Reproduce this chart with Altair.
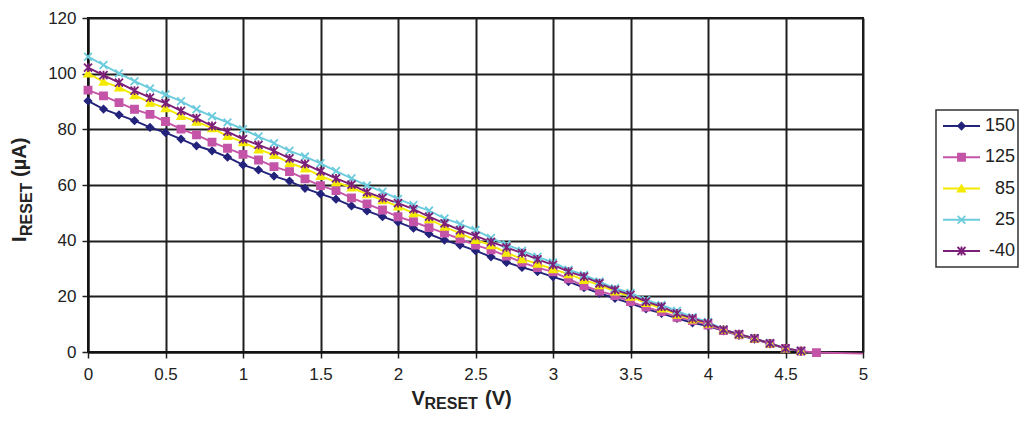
import altair as alt
import pandas as pd

# ---------------- data ----------------
volts = [0.0, 0.1, 0.2, 0.3, 0.4, 0.5, 0.6, 0.7, 0.8, 0.9,
         1.0, 1.1, 1.2, 1.3, 1.4, 1.5, 1.6, 1.7, 1.8, 1.9,
         2.0, 2.1, 2.2, 2.3, 2.4, 2.5, 2.6, 2.7, 2.8, 2.9,
         3.0, 3.1, 3.2, 3.3, 3.4, 3.5, 3.6, 3.7, 3.8, 3.9,
         4.0, 4.1, 4.2, 4.3, 4.4, 4.5, 4.6]
volts_125 = volts + [4.7, 5.0]

i_150 = [90.2, 87.3, 85.2, 83.1, 80.7, 78.8, 76.5, 74.1, 72.3, 70.0,
         67.2, 65.4, 63.2, 61.4, 58.8, 56.8, 54.9, 52.5, 50.7, 48.6,
         46.7, 44.5, 42.4, 40.2, 38.4, 36.4, 34.2, 32.2, 30.4, 28.9,
         27.0, 25.3, 23.1, 21.1, 19.3, 17.5, 15.5, 13.9, 12.1, 10.5,
         9.3, 7.6, 6.0, 4.6, 2.9, 1.2, 0.2]
i_125 = [94.1, 92.0, 89.6, 87.2, 85.4, 82.8, 80.1, 78.0, 75.4, 73.2,
         71.0, 69.0, 66.6, 64.8, 62.2, 59.8, 58.0, 55.4, 53.2, 51.0,
         48.6, 46.8, 44.7, 42.7, 40.6, 38.4, 36.7, 34.5, 32.2, 30.3,
         28.8, 26.3, 23.8, 21.9, 20.3, 18.1, 16.1, 14.5, 12.5, 11.3,
         9.7, 7.7, 6.2, 4.8, 3.0, 1.3, 0.3, -0.2, -0.6]
i_85 = [100.1, 97.1, 95.1, 92.3, 89.6, 87.6, 84.8, 82.8, 80.4, 77.6,
        75.4, 72.8, 70.8, 67.9, 66.0, 63.3, 61.0, 59.1, 56.7, 54.6,
        52.3, 49.9, 47.7, 45.0, 42.6, 40.3, 38.4, 35.7, 33.4, 31.7,
        29.8, 28.0, 25.9, 24.0, 21.8, 19.9, 17.6, 15.7, 13.4, 11.7,
        10.2, 8.0, 6.3, 4.9, 3.1, 1.3, 0.4]
i_25 = [106.1, 103.1, 100.1, 97.3, 94.7, 92.5, 90.1, 87.2, 84.7, 82.5,
        80.0, 77.4, 75.0, 72.3, 70.2, 67.8, 65.0, 62.4, 59.8, 57.6,
        55.0, 52.8, 50.8, 48.0, 46.0, 43.8, 41.0, 38.6, 36.4, 34.2,
        32.2, 29.6, 27.7, 25.3, 22.9, 21.2, 18.7, 16.9, 14.8, 12.5,
        10.8, 8.1, 6.4, 5.0, 3.2, 1.3, 0.4]
i_m40 = [102.2, 99.5, 96.8, 93.9, 91.4, 89.4, 86.6, 84.0, 81.2, 79.2,
         76.5, 74.4, 72.3, 69.6, 67.6, 64.9, 62.4, 60.1, 57.4, 55.4,
         53.5, 51.3, 48.6, 46.2, 43.8, 41.7, 39.6, 37.6, 35.5, 33.3,
         31.3, 28.9, 27.1, 24.7, 22.3, 20.5, 18.1, 16.3, 13.9, 12.1,
         10.4, 8.0, 6.4, 4.9, 3.1, 1.3, 0.4]

series_names = ["150", "125", "85", "25", "-40"]
series_colors = ["#23237c", "#c454a8", "#f3ea00", "#6ccbdc", "#7c1f78"]
series_shapes = ["diamond", "square", "triangle-up",
                 "M-1,-1L1,1M-1,1L1,-1",
                 "M-1,-1L1,1M-1,1L1,-1M0,-1.1L0,1.1"]
series_sizes = [45, 64, 60, 80, 80]
x_ticks = [0, 0.5, 1, 1.5, 2, 2.5, 3, 3.5, 4, 4.5, 5]
y_ticks = [0, 20, 40, 60, 80, 100, 120]

rows = []
for name, xs, ys in [("150", volts, i_150), ("125", volts_125, i_125),
                     ("85", volts, i_85), ("25", volts, i_25),
                     ("-40", volts, i_m40)]:
    for v, i in zip(xs, ys):
        rows.append({"series": name, "V": v, "I": i})
df = pd.DataFrame(rows)

leg_df = pd.DataFrame({"series": series_names, "idx": [0, 1, 2, 3, 4]})
one = pd.DataFrame({"k": [0]})

FONT = "Liberation Sans"
W, H = 775, 334

color_scale = alt.Scale(domain=series_names, range=series_colors)
shape_scale = alt.Scale(domain=series_names, range=series_shapes)
size_scale = alt.Scale(domain=series_names, range=series_sizes)

x_enc = alt.X("V:Q", scale=alt.Scale(domain=[0, 5], nice=False),
              axis=alt.Axis(values=x_ticks, labelExpr="'' + datum.value",
                            title=None, grid=True, labelPadding=8,
                            labelFlush=False))
y_scale = alt.Scale(domain=[0, 120], nice=False)

lines = alt.Chart(df).mark_line(strokeWidth=1.9, clip=False).encode(
    x=x_enc,
    y=alt.Y("I:Q", scale=y_scale,
            axis=alt.Axis(values=y_ticks, title=None, grid=True, labelPadding=6,
                          labelFlush=False)),
    color=alt.Color("series:N", scale=color_scale, legend=None),
)

points = alt.Chart(df).transform_filter("datum.V <= 4.7").mark_point(
    filled=False, strokeWidth=1.8, opacity=1, clip=False
).encode(
    x=x_enc,
    y=alt.Y("I:Q", scale=y_scale, axis=None),
    fill=alt.Fill("series:N", scale=color_scale, legend=None),
    stroke=alt.Stroke("series:N", scale=color_scale, legend=None),
    shape=alt.Shape("series:N", scale=shape_scale, legend=None),
    size=alt.Size("series:N", scale=size_scale, legend=None),
)

# ---------------- legend (custom, boxed) ----------------
leg_y = alt.Y("idx:Q", scale=alt.Scale(domain=[0, 4], range=[108, 233]), axis=None)

leg_box = alt.Chart(one).mark_rect(fill="white", stroke="#333", strokeWidth=1.5).encode(
    x=alt.value(848), x2=alt.value(930), y=alt.value(92), y2=alt.value(249))

leg_rule = alt.Chart(leg_df).mark_rule(strokeWidth=1.9).encode(
    x=alt.value(855), x2=alt.value(892), y=leg_y,
    color=alt.Color("series:N", scale=color_scale, legend=None))

leg_pts = alt.Chart(leg_df).mark_point(filled=False, strokeWidth=1.8, opacity=1).encode(
    x=alt.value(873.5), y=leg_y,
    fill=alt.Fill("series:N", scale=color_scale, legend=None),
    stroke=alt.Stroke("series:N", scale=color_scale, legend=None),
    shape=alt.Shape("series:N", scale=shape_scale, legend=None),
    size=alt.Size("series:N", scale=size_scale, legend=None))

leg_txt = alt.Chart(leg_df).mark_text(
    align="right", baseline="middle", font=FONT, fontSize=18, color="#222"
).encode(x=alt.value(927), y=leg_y, text="series:N")

# ---------------- axis titles with subscripts ----------------
def txt(t, x, y, size, angle=0):
    return alt.Chart(one).mark_text(
        text=t, align="left", baseline="alphabetic", font=FONT, fontSize=size,
        fontWeight="bold", color="#222", angle=angle
    ).encode(x=alt.value(x), y=alt.value(y))

xt1 = txt("V", 323.5, 387, 20)
xt2 = txt("RESET", 336.5, 391, 16)
xt3 = txt("(V)", 397, 387, 20)

yt1 = txt("I", -62, 224, 20, 270)
yt2 = txt("RESET", -56.5, 218, 16, 270)
yt3 = txt("(µA)", -62, 159, 20, 270)

chart = alt.layer(
    lines, points, leg_box, leg_rule, leg_pts, leg_txt,
    xt1, xt2, xt3, yt1, yt2, yt3
).resolve_scale(y="independent").properties(
    width=W, height=H,
    autosize=alt.AutoSizeParams(type="none"),
    padding={"left": 80, "top": 10, "right": 156, "bottom": 61},
).configure_view(
    stroke="#111", strokeWidth=2
).configure_axis(
    labelFont=FONT, labelFontSize=17, labelColor="#222",
    tickColor="#222", tickSize=6, tickWidth=1.5,
    domainColor="#111", domainWidth=2,
    gridColor="#1e1e1e", gridWidth=2, gridOpacity=1,
)

chart.save("out.html", embed_options={"renderer": "svg", "actions": False})
